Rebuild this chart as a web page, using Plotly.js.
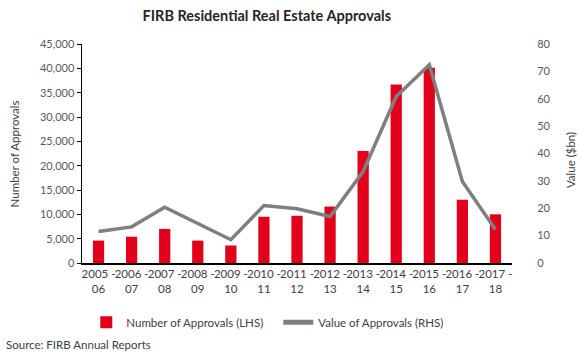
<!DOCTYPE html>
<html>
<head>
<meta charset="utf-8">
<script src="https://cdn.plot.ly/plotly-3.0.1.min.js"></script>
<style>html,body{margin:0;padding:0;background:#fff;}#chart{width:580px;height:357px;}</style>
</head>
<body>
<div id="chart"></div>
<script>
const categories = ["2005 -<br>06","2006 -<br>07","2007 -<br>08","2008 -<br>09","2009 -<br>10","2010 -<br>11","2011 -<br>12","2012 -<br>13","2013 -<br>14","2014 -<br>15","2015 -<br>16","2016 -<br>17","2017 -<br>18"];
const numberOfApprovals = [4600, 5400, 7000, 4600, 3600, 9500, 9700, 11600, 23000, 36700, 40100, 13000, 10000];
const valueOfApprovals = [11.5, 13.2, 20.4, 14.4, 8.5, 21.0, 19.8, 17.0, 33.4, 60.8, 72.4, 29.8, 12.2];

const FONT = "Lato, 'Open Sans', sans-serif";
const traces = [
  {type:'bar', name:'Number of Approvals (LHS)', x:categories, y:numberOfApprovals,
   marker:{color:'#E2001A'}, yaxis:'y', hoverinfo:'skip'},
  {type:'scatter', mode:'lines', name:'Value of Approvals (RHS)', x:categories, y:valueOfApprovals,
   line:{color:'#7F7F7F', width:3.5}, yaxis:'y2', hoverinfo:'skip'}
];
const layout = {
  width:580, height:357,
  margin:{l:82, r:68, t:44, b:94, autoexpand:false},
  paper_bgcolor:'#fff', plot_bgcolor:'#fff',
  font:{family:FONT, size:11, color:'#595959'},
  title:{text:'<b>FIRB Residential Real Estate Approvals</b>', x:0.46, xanchor:'center', y:0.955, yanchor:'middle', xref:'container', yref:'container',
         font:{family:FONT, size:14.5, color:'#262626'}},
  bargap:0.66,
  showlegend:true,
  legend:{orientation:'h', x:0.01, xanchor:'left', y:-0.27, yanchor:'middle', entrywidth:147, entrywidthmode:'pixels',
          font:{family:FONT, size:11.5, color:'#404040'}, tracegroupgap:0, itemsizing:'constant'},
  xaxis:{type:'category', showline:true, linecolor:'#000', linewidth:1.5, ticks:'', showgrid:false, automargin:false,
         tickangle:0, tickfont:{family:FONT, size:11.5, color:'#404040'}, fixedrange:true},
  yaxis:{range:[0,45000], dtick:5000, tickformat:',d', showline:true, linecolor:'#000', linewidth:1.5, automargin:false,
         ticks:'outside', ticklen:4, tickcolor:'#000', showgrid:false, zeroline:false,
         tickfont:{family:FONT, size:11, color:'#595959'}},
  yaxis2:{range:[0,80], dtick:10, overlaying:'y', side:'right', showline:false, showgrid:false, zeroline:false, automargin:false,
          ticks:'outside', ticklen:22, tickcolor:'rgba(0,0,0,0)',
          tickfont:{family:FONT, size:11, color:'#595959'}},
  annotations:[
    {text:'Number of Approvals', xref:'paper', yref:'paper', x:-0.156, y:0.5, xanchor:'center', yanchor:'middle', textangle:-90,
     showarrow:false, font:{family:FONT, size:11.5, color:'#404040'}},
    {text:'Value ($bn)', xref:'paper', yref:'paper', x:1.135, y:0.47, xanchor:'center', yanchor:'middle', textangle:-90,
     showarrow:false, font:{family:FONT, size:11.5, color:'#404040'}},
    {text:'Source: FIRB Annual Reports', xref:'paper', yref:'paper', x:-0.182, y:-0.37, xanchor:'left', yanchor:'middle',
     showarrow:false, font:{family:FONT, size:11.5, color:'#404040'}}
  ]
};
Plotly.newPlot('chart', traces, layout, {displayModeBar:false, staticPlot:true});
</script>
</body>
</html>
